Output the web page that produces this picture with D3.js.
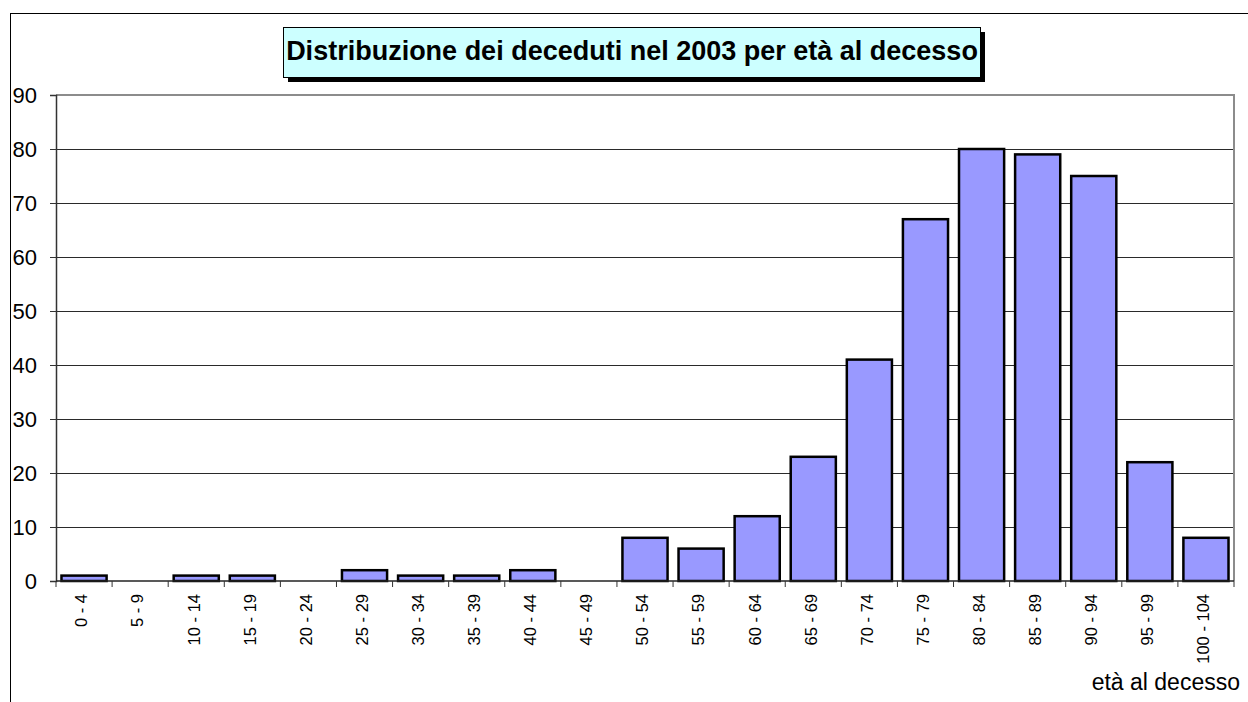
<!DOCTYPE html>
<html>
<head>
<meta charset="utf-8">
<script src="https://cdn.jsdelivr.net/npm/d3@7/dist/d3.min.js"></script>
<style>
  html, body { margin: 0; padding: 0; background: #fff; }
  svg { display: block; font-family: "Liberation Sans", Arial, sans-serif; }
</style>
</head>
<body>
<svg id="chart" width="1248" height="702"></svg>
<script>
const categories = ["0 - 4","5 - 9","10 - 14","15 - 19","20 - 24","25 - 29","30 - 34","35 - 39","40 - 44","45 - 49","50 - 54","55 - 59","60 - 64","65 - 69","70 - 74","75 - 79","80 - 84","85 - 89","90 - 94","95 - 99","100 - 104"];
const values = [1,0,1,1,0,2,1,1,2,0,8,6,12,23,41,67,80,79,75,22,8];
const yTicks = [0,10,20,30,40,50,60,70,80,90];
const titleText = "Distribuzione dei deceduti nel 2003 per età al decesso";
const xAxisTitle = "età al decesso";

const svg = d3.select("#chart");
const W = 1248, H = 702;
const plot = { left: 56, right: 1234, top: 95, bottom: 581 };

// outer chart frame (right/bottom edges fall outside the picture)
svg.append("rect")
  .attr("x", 10.5).attr("y", 13.5)
  .attr("width", W).attr("height", H)
  .attr("fill", "#fff").attr("stroke", "#000").attr("stroke-width", 1);

const x = d3.scaleBand()
  .domain(categories)
  .range([plot.left, plot.right])
  .paddingInner(0.16)
  .paddingOuter(0.08);

const y = d3.scaleLinear()
  .domain([0, 90])
  .range([plot.bottom, plot.top]);

// gridlines
svg.append("g")
  .selectAll("line")
  .data(yTicks.filter(d => d > 0 && d < 90))
  .join("line")
  .attr("x1", plot.left).attr("x2", plot.right)
  .attr("y1", d => y(d) + 0.5).attr("y2", d => y(d) + 0.5)
  .attr("stroke", "#2a2a2a").attr("stroke-width", 1);

// plot border top & right (gray)
svg.append("path")
  .attr("d", `M${plot.left},${plot.top} H${plot.right} V${plot.bottom}`)
  .attr("fill", "none").attr("stroke", "#8c8c8c").attr("stroke-width", 2);

// bars
svg.append("g")
  .selectAll("rect")
  .data(values.map((v, i) => ({ c: categories[i], v })))
  .join("rect")
  .filter(d => d.v > 0)
  .attr("x", d => x(d.c) + 1)
  .attr("width", x.bandwidth() - 2)
  .attr("y", d => y(d.v))
  .attr("height", d => y(0) - y(d.v))
  .attr("fill", "#9999FF")
  .attr("stroke", "#000")
  .attr("stroke-width", 2.5);

// y axis
const yAxis = d3.axisLeft(y).tickValues(yTicks).tickSize(6).tickPadding(13).tickFormat(d3.format("d"));
const gy = svg.append("g").attr("transform", `translate(${plot.left},0)`).call(yAxis);
gy.select(".domain").attr("stroke", "#333").attr("stroke-width", 1.5);
gy.selectAll(".tick line").attr("stroke", "#333");
gy.selectAll(".tick text")
  .attr("font-size", 22).attr("fill", "#000")
  .attr("font-family", '"Liberation Sans", Arial, sans-serif');

// x axis: ticks at category boundaries
const boundaries = d3.range(categories.length + 1).map(i => plot.left + i * (plot.right - plot.left) / categories.length);
const gx = svg.append("g");
gx.append("line")
  .attr("x1", plot.left).attr("x2", plot.right)
  .attr("y1", plot.bottom).attr("y2", plot.bottom)
  .attr("stroke", "#222").attr("stroke-width", 1.5);
gx.selectAll("line.tk")
  .data(boundaries)
  .join("line")
  .attr("class", "tk")
  .attr("x1", d => d).attr("x2", d => d)
  .attr("y1", plot.bottom).attr("y2", plot.bottom + 6)
  .attr("stroke", "#333").attr("stroke-width", 1);
gx.selectAll("text")
  .data(categories)
  .join("text")
  .attr("transform", d => `translate(${x(d) + x.bandwidth() / 2},594) rotate(-90)`)
  .attr("text-anchor", "end")
  .attr("dy", "0.2em")
  .attr("font-size", 16.5)
  .attr("fill", "#000")
  .text(d => d);

// x axis title
svg.append("text")
  .attr("x", 1240).attr("y", 690)
  .attr("text-anchor", "end")
  .attr("font-size", 23)
  .attr("fill", "#000")
  .text(xAxisTitle);

// title box with shadow
const tb = { x: 283, y: 27, w: 697, h: 50 };
svg.append("rect")
  .attr("x", tb.x + 5).attr("y", tb.y + 5)
  .attr("width", tb.w).attr("height", tb.h)
  .attr("fill", "#000");
svg.append("rect")
  .attr("x", tb.x + 0.5).attr("y", tb.y + 0.5)
  .attr("width", tb.w).attr("height", tb.h)
  .attr("fill", "#CCFFFF").attr("stroke", "#000").attr("stroke-width", 1);
svg.append("text")
  .attr("x", tb.x + tb.w / 2 + 0.5).attr("y", 60)
  .attr("text-anchor", "middle")
  .attr("font-size", 27)
  .attr("font-weight", "bold")
  .attr("fill", "#000")
  .text(titleText);
</script>
</body>
</html>
